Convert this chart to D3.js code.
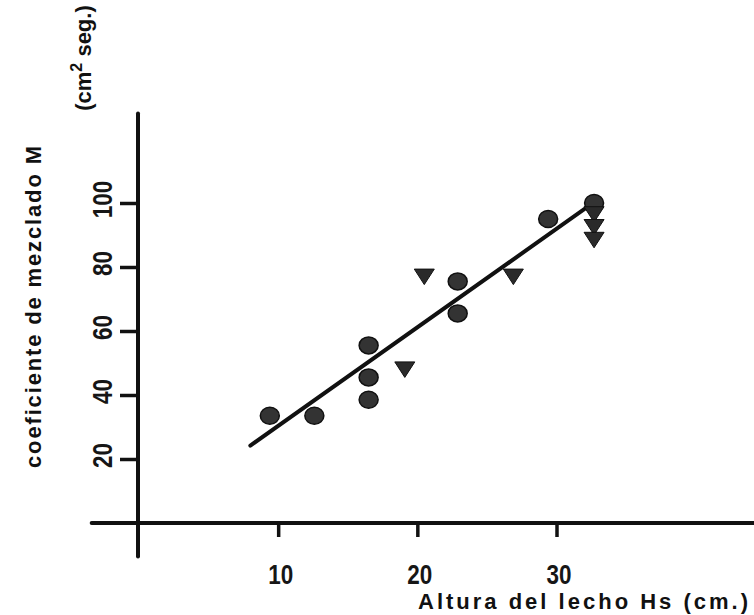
<!DOCTYPE html>
<html>
<head>
<meta charset="utf-8">
<script src="https://cdn.jsdelivr.net/npm/d3@7"></script>
<style>
  body { margin: 0; background: #fff; }
  svg { display: block; }
  .tick-label { font-family: "Liberation Sans", "DejaVu Sans", sans-serif; font-size: 28px; font-weight: bold; fill: #161616; }
  .title { font-family: "Liberation Sans", "DejaVu Sans", sans-serif; font-weight: bold; font-size: 22px; fill: #111; }
</style>
</head>
<body>
<div id="container"></div>
<script>
// ---------------- data ----------------
const circleX = [9.4, 12.6, 16.5, 16.5, 16.5, 22.9, 22.9, 29.4, 32.7];
const circleY = [33.5, 33.5, 55.5, 45.5, 38.5, 75.5, 65.5, 95, 100];

const triangleX = [20.5, 19.1, 26.9, 32.7, 32.7, 32.7];
const triangleY = [77, 48, 77, 96.5, 92.5, 88.5];

// fitted line, two end points
const fitX = [8.0, 32.3];
const fitY = [24.2, 99];

const xTicks = [10, 20, 30];
const yTicks = [20, 40, 60, 80, 100];

// axis extents in data units
const xExtent = [-3.4, 44.3];
const yExtent = [-10.5, 128];

// ---------------- svg ----------------
const width = 754;
const height = 615;

const svg = d3.select("#container").append("svg")
  .attr("width", width)
  .attr("height", height);

svg.append("rect").attr("width", width).attr("height", height).attr("fill", "#fff");

const xScale = d3.scaleLinear().domain([0, 30]).range([139, 556.5]);
const yScale = d3.scaleLinear().domain([0, 100]).range([523, 203]);

// narrow digits: squeeze each label to ~12.5px per character
const digitWidth = function (d) { return String(d).length * 12.5; };

// ---------------- axes ----------------
// main axis lines
svg.append("line")
  .attr("x1", xScale(xExtent[0])).attr("x2", xScale(xExtent[1]))
  .attr("y1", yScale(0)).attr("y2", yScale(0))
  .attr("stroke", "#111").attr("stroke-width", 4).attr("stroke-linecap", "round");

svg.append("line")
  .attr("x1", xScale(0) - 1).attr("x2", xScale(0) - 1)
  .attr("y1", yScale(yExtent[0])).attr("y2", yScale(yExtent[1]))
  .attr("stroke", "#111").attr("stroke-width", 4).attr("stroke-linecap", "round");

const xAxis = d3.axisBottom(xScale)
  .tickValues(xTicks)
  .tickSize(14)
  .tickFormat(d3.format("d"));

const gx = svg.append("g")
  .attr("transform", "translate(0," + yScale(0) + ")")
  .call(xAxis);
gx.select(".domain").remove();
gx.selectAll(".tick line").attr("stroke", "#111").attr("stroke-width", 3.5);
gx.selectAll(".tick text")
  .attr("class", "tick-label")
  .attr("y", 61).attr("dy", 0)
  .attr("x", 2)
  .attr("textLength", digitWidth)
  .attr("lengthAdjust", "spacingAndGlyphs")
  .attr("font-size", null).attr("font-family", null);

const yAxis = d3.axisLeft(yScale)
  .tickValues(yTicks)
  .tickSize(18)
  .tickFormat(d3.format("d"));

const gy = svg.append("g")
  .attr("transform", "translate(" + (xScale(0) - 1) + ",0)")
  .call(yAxis);
gy.select(".domain").remove();
gy.selectAll(".tick line").attr("stroke", "#111").attr("stroke-width", 3.5);
gy.selectAll(".tick text")
  .attr("class", "tick-label")
  .attr("x", 0).attr("dy", 0)
  .attr("text-anchor", "middle")
  .attr("textLength", digitWidth)
  .attr("lengthAdjust", "spacingAndGlyphs")
  .attr("transform", "translate(-26,-4) rotate(-90)")
  .attr("font-size", null).attr("font-family", null);

// ---------------- titles ----------------
svg.append("text")
  .attr("class", "title")
  .attr("text-anchor", "middle")
  .attr("transform", "translate(41,307) rotate(-90)")
  .attr("textLength", 322)
  .attr("lengthAdjust", "spacing")
  .attr("font-size", 23)
  .text("coeficiente de mezclado M");

const unit = svg.append("text")
  .attr("class", "title")
  .attr("text-anchor", "middle")
  .attr("font-size", 22)
  .attr("transform", "translate(91,58) rotate(-90)");
unit.append("tspan").text("(cm");
unit.append("tspan").attr("dy", -9).attr("font-size", 16).text("2");
unit.append("tspan").attr("dy", 9).text("  seg.)");

svg.append("text")
  .attr("class", "title")
  .attr("text-anchor", "end")
  .attr("x", 748)
  .attr("y", 609)
  .attr("font-size", 21)
  .attr("textLength", 330)
  .attr("lengthAdjust", "spacing")
  .text("Altura del lecho Hs (cm.)");

// ---------------- fitted line ----------------
const line = d3.line()
  .x(function (d) { return xScale(d[0]); })
  .y(function (d) { return yScale(d[1]); });

svg.append("path")
  .attr("d", line(d3.zip(fitX, fitY)))
  .attr("fill", "none")
  .attr("stroke", "#111")
  .attr("stroke-width", 4)
  .attr("stroke-linecap", "round");

// ---------------- markers ----------------
const circles = d3.zip(circleX, circleY);
svg.selectAll("ellipse.pt")
  .data(circles)
  .enter()
  .append("ellipse")
  .attr("class", "pt")
  .attr("cx", function (d) { return xScale(d[0]); })
  .attr("cy", function (d) { return yScale(d[1]); })
  .attr("rx", 9.5)
  .attr("ry", 8.5)
  .attr("fill", "#333")
  .attr("stroke", "#111")
  .attr("stroke-width", 1.5);

const triangles = d3.zip(triangleX, triangleY);
svg.selectAll("path.tri")
  .data(triangles)
  .enter()
  .append("path")
  .attr("class", "tri")
  .attr("d", "M-10,-7.5L10,-7.5L0,8Z")
  .attr("transform", function (d) {
    return "translate(" + xScale(d[0]) + "," + yScale(d[1]) + ")";
  })
  .attr("fill", "#2a2a2a")
  .attr("stroke", "#111")
  .attr("stroke-width", 1);
</script>
</body>
</html>
